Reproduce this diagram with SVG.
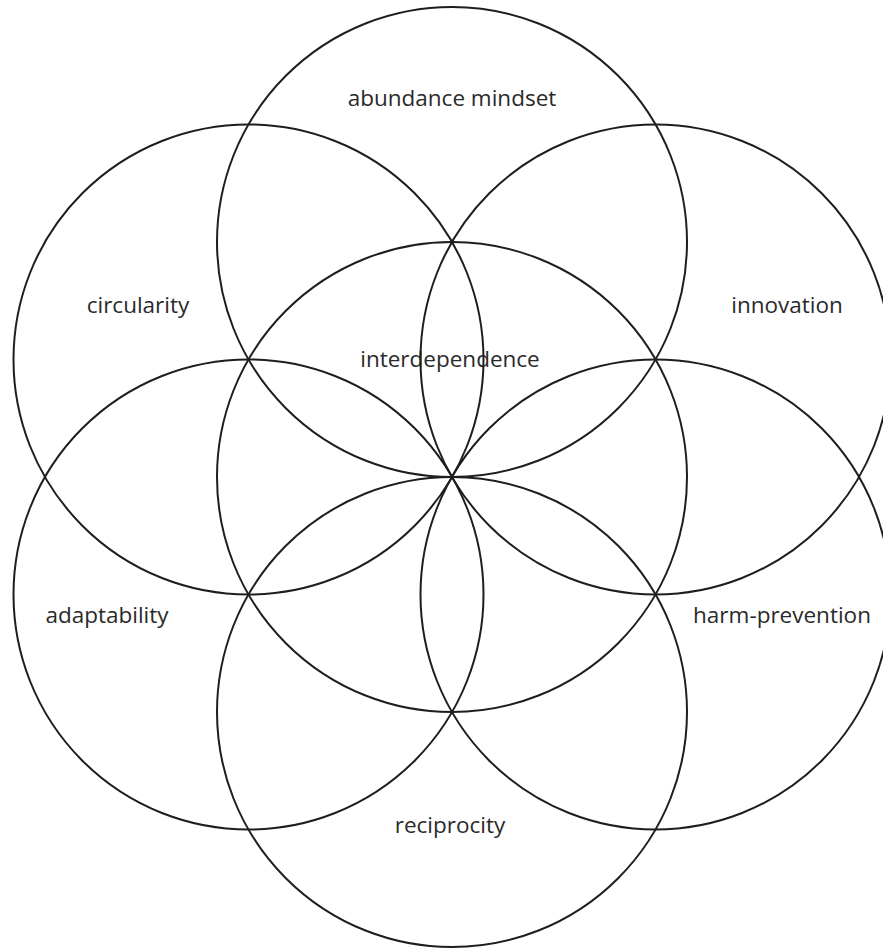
<svg xmlns="http://www.w3.org/2000/svg" width="883" height="949" viewBox="0 0 883 949">
<style>
.c{fill:none;stroke:#1e1e1e;stroke-width:2}
.t{font-family:"Open Sans","Liberation Sans",sans-serif;font-size:22.5px;fill:#2a2a2a;text-anchor:middle}
</style>
<rect width="883" height="949" fill="#fff"/>
<g id="center"><circle class="c" cx="452" cy="477" r="235"/><text class="t" x="450" y="367">interdependence</text></g>
<g id="top"><circle class="c" cx="452" cy="242" r="235"/><text class="t" x="452" y="106">abundance mindset</text></g>
<g id="upper-left"><circle class="c" cx="248.5" cy="359.5" r="235"/><text class="t" x="138" y="313">circularity</text></g>
<g id="upper-right"><circle class="c" cx="655.5" cy="359.5" r="235"/><text class="t" x="787" y="313">innovation</text></g>
<g id="lower-left"><circle class="c" cx="248.5" cy="594.5" r="235"/><text class="t" x="107" y="623">adaptability</text></g>
<g id="lower-right"><circle class="c" cx="655.5" cy="594.5" r="235"/><text class="t" x="782" y="623">harm-prevention</text></g>
<g id="bottom"><circle class="c" cx="452" cy="712" r="235"/><text class="t" x="450" y="833">reciprocity</text></g>
<g id="connectors"></g>
</svg>
